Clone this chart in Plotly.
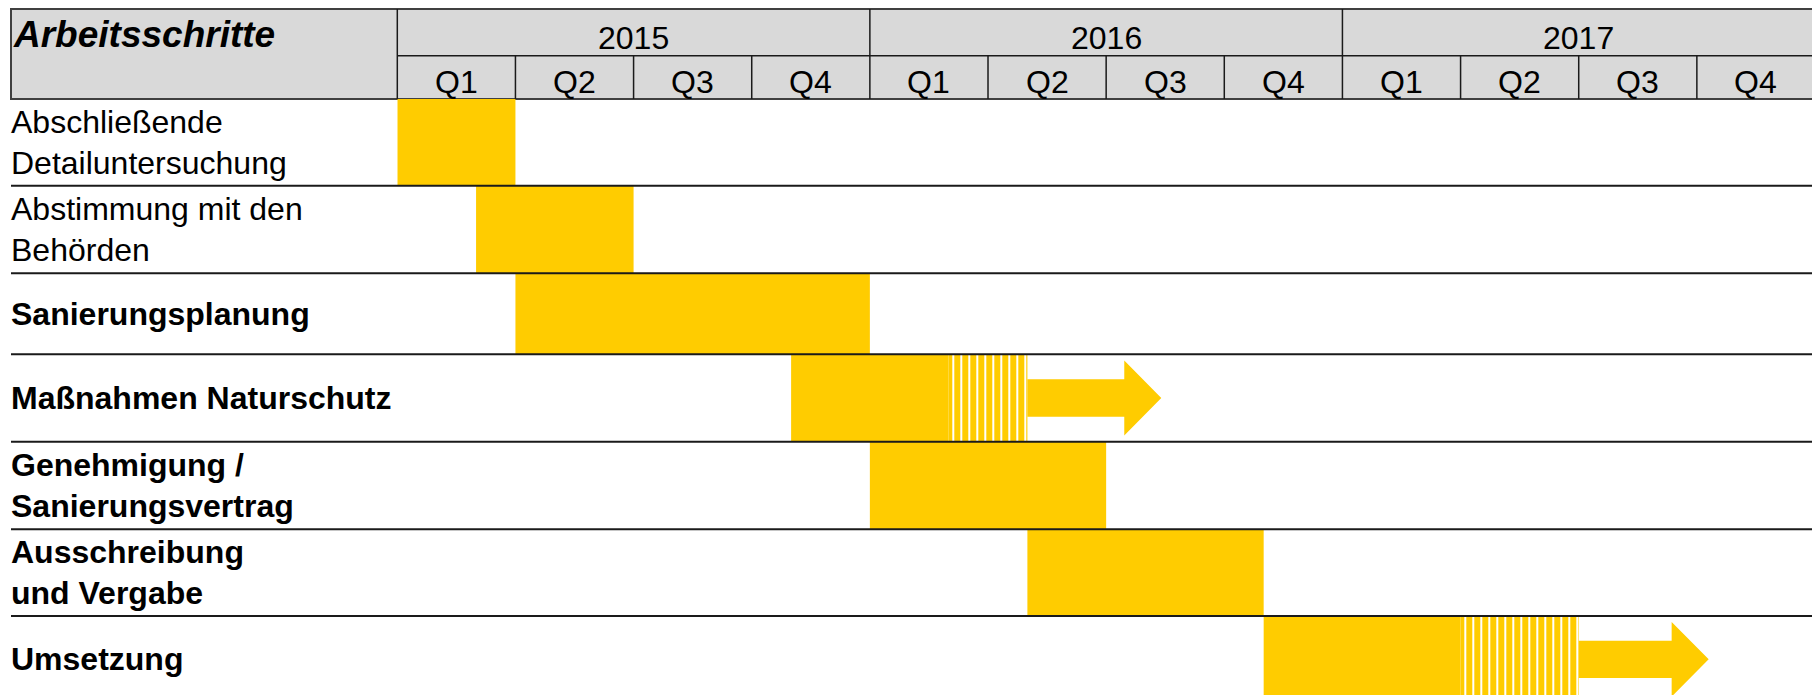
import plotly.graph_objects as go

# ---------------- data ----------------
steps = [
    "Abschließende<br>Detailuntersuchung",
    "Abstimmung mit den<br>Behörden",
    "<b>Sanierungsplanung</b>",
    "<b>Maßnahmen Naturschutz</b>",
    "<b>Genehmigung /<br>Sanierungsvertrag</b>",
    "<b>Ausschreibung<br>und Vergabe</b>",
    "<b>Umsetzung</b>",
]
# months counted from 1 Jan 2015
solid_start = [0, 2, 3, 10, 12, 16, 22]
solid_end = [3, 6, 12, 14, 18, 22, 27]
striped_rows = [3, 6]
striped_start = [14, 27]
striped_end = [16, 30]
arrow_rows = [3, 6]
arrow_start = [16, 30]
arrow_end = [19.4, 33.3]
years = ["2015", "2016", "2017"]
quarters = ["Q1", "Q2", "Q3", "Q4"]
header_title = "Arbeitsschritte"

# ---------------- style / layout constants ----------------
OFF = 8  # page body margin
W, H = 1820 - OFF, 695 - OFF
YELLOW = "#FFCC00"
GRAY = "#D9D9D9"
FONT = "Liberation Sans, Arial, sans-serif"
X0_PX, X1_PX = 397.3 - OFF, 1815.0 - OFF
LEFT_PX = 11.0 - OFF
HEAD_TOP, HEAD_MID, HEAD_BOT = 9.0 - OFF, 55.7 - OFF, 99.0 - OFF
ROW_HEIGHTS = [86.7, 87.6, 81.0, 87.4, 87.6, 86.7, 86.7]  # row layout (px)
LINE_GAP = 40.6
N_MONTHS = 36

# row geometry in the y-axis' own units (pixels below header)
row_top = []
acc = 0.0
for h in ROW_HEIGHTS:
    row_top.append(acc)
    acc += h
row_center = [t + h / 2 for t, h in zip(row_top, ROW_HEIGHTS)]


def py(p):
    return 1 - p / H


def px(p):
    return p / W


fig = go.Figure()

# solid bars
fig.add_trace(go.Bar(
    y=row_center,
    x=[e - s for s, e in zip(solid_start, solid_end)],
    base=solid_start,
    orientation="h",
    width=ROW_HEIGHTS,
    marker=dict(color=YELLOW, line=dict(width=0)),
    hoverinfo="skip",
    showlegend=False,
))
# striped bars
fig.add_trace(go.Bar(
    y=[row_center[r] for r in striped_rows],
    x=[e - s for s, e in zip(striped_start, striped_end)],
    base=striped_start,
    orientation="h",
    width=[ROW_HEIGHTS[r] for r in striped_rows],
    marker=dict(color=YELLOW, line=dict(width=0),
                pattern=dict(shape="|", fgcolor="white", bgcolor=YELLOW,
                             size=8, solidity=0.25, fillmode="replace")),
    hoverinfo="skip",
    showlegend=False,
))
# arrows
SHAFT_F = 0.215
HEAD_F = 0.43
HEAD_L = 0.94
for r, s, e in zip(arrow_rows, arrow_start, arrow_end):
    hx = e - HEAD_L
    c = row_center[r]
    sh = SHAFT_F * ROW_HEIGHTS[r]
    hh = HEAD_F * ROW_HEIGHTS[r]
    fig.add_trace(go.Scatter(
        x=[s, hx, hx, e, hx, hx, s, s],
        y=[c - sh, c - sh, c - hh, c, c + hh, c + sh, c + sh, c - sh],
        mode="lines", fill="toself", fillcolor=YELLOW,
        line=dict(width=0, color=YELLOW),
        hoverinfo="skip", showlegend=False,
    ))

shapes = []
# header box
shapes.append(dict(type="rect", xref="paper", yref="paper",
                   x0=px(LEFT_PX), x1=px(X1_PX), y0=py(HEAD_BOT), y1=py(HEAD_TOP),
                   fillcolor=GRAY, line=dict(color="#404040", width=2), layer="below"))
shapes.append(dict(type="line", xref="paper", yref="paper",
                   x0=px(X0_PX), x1=px(X1_PX), y0=py(HEAD_MID), y1=py(HEAD_MID),
                   line=dict(color="#1a1a1a", width=1.5)))
shapes.append(dict(type="line", xref="paper", yref="paper",
                   x0=px(X0_PX), x1=px(X0_PX), y0=py(HEAD_BOT), y1=py(HEAD_TOP),
                   line=dict(color="#1a1a1a", width=1.5)))
nq = len(quarters)
for yi in range(1, len(years)):
    m = yi * 12
    shapes.append(dict(type="line", xref="x", yref="paper",
                       x0=m, x1=m, y0=py(HEAD_BOT), y1=py(HEAD_TOP),
                       line=dict(color="#1a1a1a", width=1.5)))
for qi in range(len(years) * nq):
    if qi % nq == 0:
        continue
    m = qi * 3
    shapes.append(dict(type="line", xref="x", yref="paper",
                       x0=m, x1=m, y0=py(HEAD_BOT), y1=py(HEAD_MID),
                       line=dict(color="#1a1a1a", width=1.5)))
# row separators
for i in range(1, len(steps)):
    shapes.append(dict(type="line", xref="paper", yref="y",
                       x0=px(LEFT_PX), x1=px(X1_PX), y0=row_top[i], y1=row_top[i],
                       line=dict(color="#1a1a1a", width=2), layer="above"))

annotations = []
annotations.append(dict(text="<b><i>%s</i></b>" % header_title, xref="paper", yref="paper",
                        x=px(11 - OFF), y=py(34 - OFF), xanchor="left", yanchor="middle",
                        showarrow=False, font=dict(family=FONT, size=37, color="black")))
for yi, yl in enumerate(years):
    annotations.append(dict(text=yl, xref="x", yref="paper", x=yi * 12 + 6, y=py(38 - OFF),
                            xanchor="center", yanchor="middle", showarrow=False,
                            font=dict(family=FONT, size=32, color="black")))
    for qi, ql in enumerate(quarters):
        annotations.append(dict(text=ql, xref="x", yref="paper", x=yi * 12 + qi * 3 + 1.5,
                                y=py(82 - OFF), xanchor="center", yanchor="middle",
                                showarrow=False, font=dict(family=FONT, size=32, color="black")))
for i, s in enumerate(steps):
    bold = s.startswith("<b>")
    lines = s.replace("<b>", "").replace("</b>", "").split("<br>")
    n = len(lines)
    for k, ln in enumerate(lines):
        shift = (k - (n - 1) / 2) * LINE_GAP
        annotations.append(dict(text=("<b>%s</b>" % ln) if bold else ln,
                                xref="paper", yref="y", x=px(9 - OFF), y=row_center[i],
                                yshift=-shift,
                                xanchor="left", yanchor="middle", align="left", showarrow=False,
                                font=dict(family=FONT, size=32, color="black")))

fig.update_layout(
    width=W, height=H,
    margin=dict(l=0, r=0, t=0, b=0),
    paper_bgcolor="white", plot_bgcolor="white",
    barmode="overlay",
    xaxis=dict(domain=[px(X0_PX), px(X1_PX)], range=[0, N_MONTHS], visible=False, fixedrange=True),
    yaxis=dict(domain=[0, py(HEAD_BOT)], range=[H - HEAD_BOT, 0], visible=False, fixedrange=True),
    shapes=shapes,
    annotations=annotations,
    font=dict(family=FONT),
)

fig.write_html("out.html")
